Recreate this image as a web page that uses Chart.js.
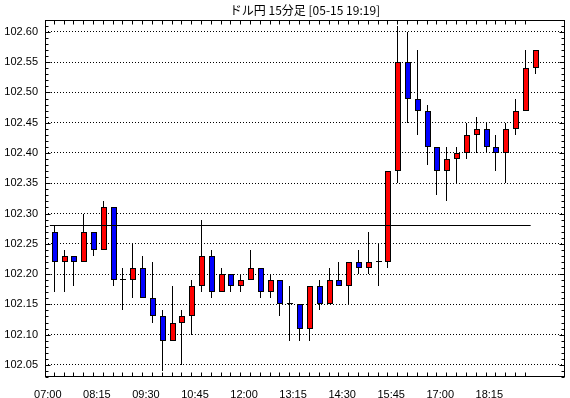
<!doctype html>
<html>
<head>
<meta charset="utf-8">
<title>ドル円 15分足</title>
<script src="https://cdn.jsdelivr.net/npm/chart.js"></script>
<style>
  html, body { margin: 0; padding: 0; background: #fff; }
</style>
</head>
<body>
<canvas id="chart" width="570" height="398"></canvas>
<script>
// 15分足 (07:00 - 19:15)
var times = ['07:00','07:15','07:30','07:45','08:00','08:15','08:30','08:45','09:00','09:15',
             '09:30','09:45','10:00','10:15','10:30','10:45','11:00','11:15','11:30','11:45',
             '12:00','12:15','12:30','12:45','13:00','13:15','13:30','13:45','14:00','14:15',
             '14:30','14:45','15:00','15:15','15:30','15:45','16:00','16:15','16:30','16:45',
             '17:00','17:15','17:30','17:45','18:00','18:15','18:30','18:45','19:00','19:15'];
var open  = [102.27,102.22,102.23,102.22,102.27,102.24,102.31,102.19,102.19,102.21,
             102.16,102.13,102.09,102.12,102.13,102.18,102.23,102.17,102.20,102.18,
             102.19,102.21,102.17,102.19,102.15,102.15,102.11,102.18,102.15,102.19,
             102.18,102.22,102.21,102.22,102.22,102.37,102.55,102.49,102.47,102.41,
             102.37,102.39,102.40,102.43,102.44,102.41,102.40,102.44,102.47,102.54];
var high  = [102.28,102.24,102.23,102.30,102.27,102.32,102.31,102.21,102.25,102.23,
             102.22,102.14,102.18,102.14,102.19,102.29,102.24,102.21,102.20,102.20,
             102.24,102.21,102.20,102.19,102.18,102.15,102.18,102.19,102.21,102.22,
             102.22,102.24,102.27,102.25,102.37,102.61,102.60,102.57,102.48,102.41,
             102.41,102.41,102.45,102.46,102.45,102.43,102.45,102.49,102.57,102.57];
var low   = [102.17,102.17,102.18,102.22,102.23,102.24,102.18,102.14,102.16,102.16,
             102.12,102.04,102.09,102.05,102.10,102.17,102.16,102.17,102.17,102.17,
             102.19,102.16,102.16,102.13,102.09,102.09,102.09,102.14,102.15,102.18,
             102.15,102.20,102.20,102.18,102.21,102.35,102.45,102.43,102.38,102.33,
             102.32,102.35,102.39,102.40,102.40,102.37,102.35,102.43,102.47,102.53];
var close = [102.22,102.23,102.22,102.27,102.24,102.31,102.19,102.19,102.21,102.16,
             102.13,102.09,102.12,102.13,102.18,102.23,102.17,102.20,102.18,102.19,
             102.21,102.17,102.19,102.15,102.15,102.11,102.18,102.15,102.19,102.18,
             102.22,102.21,102.22,102.22,102.37,102.55,102.49,102.47,102.41,102.37,
             102.39,102.40,102.43,102.44,102.41,102.40,102.44,102.47,102.54,102.57];
var refLevel = 102.28;
var yTicks = [102.05,102.10,102.15,102.20,102.25,102.30,102.35,102.40,102.45,102.50,102.55,102.60];

var labelFont = { family: "'Liberation Sans Narrow', 'Liberation Sans', sans-serif", size: 11 };

// ローソク足・水平線をピクセルに合わせる
var snap = {
    id: 'snap',
    beforeDatasetsDraw: function (chart) {
        chart.data.datasets.forEach(function (ds, di) {
            var meta = chart.getDatasetMeta(di);
            meta.data.forEach(function (el) {
                if (ds.type === 'line') {
                    el.y = Math.round(el.y - 0.5) + 0.5;
                    return;
                }
                var top = Math.round(Math.min(el.y, el.base));
                var bot = Math.round(Math.max(el.y, el.base));
                if (bot === top) bot = top + 1;
                el.y = top;
                el.base = bot;
                el.height = bot - top;
                el.x = ds.barThickness === 1 ? Math.round(el.x) - 0.5 : Math.round(el.x);
            });
        });
    }
};

// 枠と目盛り（内側）
var frame = {
    id: 'frame',
    afterDatasetsDraw: function (chart) {
        var ctx = chart.ctx, a = chart.chartArea, xs = chart.scales.x, ys = chart.scales.y;
        var l = Math.round(a.left) + 0.5, r = Math.round(a.right) - 0.5;
        var t = Math.round(a.top) + 0.5, b = Math.round(a.bottom) - 0.5;
        ctx.save();
        ctx.strokeStyle = '#000';
        ctx.lineWidth = 1;
        ctx.strokeRect(l, t, r - l, b - t);
        ctx.beginPath();
        for (var i = 0; i < times.length - 1; i++) {
            var x = Math.round(xs.getPixelForValue(i)) - 0.5;
            ctx.moveTo(x, t); ctx.lineTo(x, t + 4);
            ctx.moveTo(x, b); ctx.lineTo(x, b - 4);
        }
        var k0 = Math.ceil(ys.min * 100 - 1e-6), k1 = Math.floor(ys.max * 100 + 1e-6);
        for (var k = k0; k <= k1; k++) {
            var y = Math.round(ys.getPixelForValue(k / 100)) + 0.5;
            var len = (k % 5 === 0) ? 5 : 3;
            ctx.moveTo(l, y); ctx.lineTo(l + len, y);
            ctx.moveTo(r, y); ctx.lineTo(r - len, y);
        }
        ctx.stroke();
        ctx.restore();
    }
};

var wicks = times.map(function (t, i) { return { x: i, y: [low[i], high[i]] }; });
var bodies = times.map(function (t, i) { return { x: i, y: [open[i], close[i]] }; });
var bodyColors = times.map(function (t, i) {
    if (close[i] > open[i]) return '#ff0000';
    if (close[i] < open[i]) return '#0000ff';
    return '#000000';
});

new Chart(document.getElementById('chart').getContext('2d'), {
    type: 'bar',
    data: {
        datasets: [
            {
                type: 'line',
                data: [{ x: -0.5, y: refLevel }, { x: times.length - 1.5, y: refLevel }],
                borderColor: '#000',
                borderWidth: 1,
                pointRadius: 0,
                fill: false,
                order: 0
            },
            {
                data: bodies,
                backgroundColor: bodyColors,
                borderColor: '#000',
                borderWidth: 1,
                borderSkipped: false,
                barThickness: 6,
                minBarLength: 1,
                inflateAmount: 0,
                grouped: false,
                order: 1
            },
            {
                data: wicks,
                backgroundColor: '#000',
                borderWidth: 0,
                barThickness: 1,
                inflateAmount: 0,
                grouped: false,
                order: 2
            }
        ]
    },
    options: {
        responsive: false,
        animation: false,
        events: [],
        layout: { padding: { left: 0, right: 5, top: 0, bottom: 0 } },
        plugins: {
            legend: { display: false },
            tooltip: { enabled: false },
            title: {
                display: true,
                fullSize: false,
                text: 'ドル円 15分足 [05-15 19:19]',
                color: '#000',
                font: { family: "'Noto Sans CJK JP', sans-serif", size: 12, weight: 'normal' },
                padding: { top: 3, bottom: 3 }
            }
        },
        scales: {
            x: {
                type: 'linear',
                min: -1,
                max: 52,
                offset: false,
                grid: { display: false, offset: false },
                border: { display: false },
                afterBuildTicks: function (s) {
                    s.ticks = times.map(function (t, i) { return { value: i }; })
                                   .filter(function (t) { return t.value % 5 === 0; });
                },
                afterFit: function (s) { s.height = 21; },
                ticks: {
                    callback: function (v) { return times[v]; },
                    color: '#000',
                    font: labelFont,
                    padding: 3,
                    labelOffset: -7,
                    maxRotation: 0,
                    autoSkip: false
                }
            },
            y: {
                min: 102.03,
                max: 102.619,
                afterBuildTicks: function (s) {
                    s.ticks = yTicks.map(function (v) { return { value: v }; });
                },
                afterFit: function (s) { s.width = 45; },
                grid: { color: '#000', lineWidth: 1, drawTicks: false },
                border: { display: false, dash: [1, 2] },
                ticks: {
                    callback: function (v) { return v.toFixed(2); },
                    color: '#000',
                    font: labelFont,
                    padding: 7
                }
            }
        }
    },
    plugins: [snap, frame]
});
</script>
</body>
</html>
